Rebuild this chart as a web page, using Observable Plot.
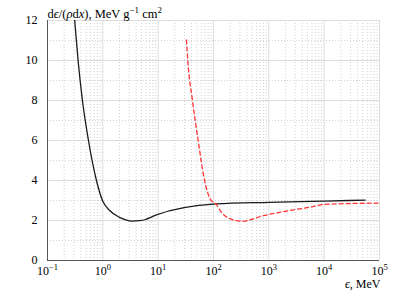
<!DOCTYPE html>
<html><head><meta charset="utf-8">
<script src="https://cdn.jsdelivr.net/npm/d3@7"></script>
<script src="https://cdn.jsdelivr.net/npm/@observablehq/plot@0.6"></script>
<style>body{margin:0;background:#fff}</style>
</head><body><div id="chart"></div>
<script>
// Black curve (solid)
const blackEnergy = [0.31, 0.357, 0.428, 0.55, 0.767, 0.985, 1.33, 1.96, 2.6, 3.4, 4.5, 5.9, 7.4, 9.0, 112, 1000, 10000, 55000];
const blackLoss   = [12.0, 10.0, 8.0, 6.0, 4.0, 3.0, 2.5, 2.17, 2.03, 1.97, 1.99, 2.05, 2.16, 2.27, 2.83, 2.91, 2.97, 3.02];
// Red curve (dashed)
const redEnergy = [32.5, 34.3, 41.7, 52.8, 69, 90.6, 110, 143, 202, 330, 525, 700, 925, 2790, 5570, 10000, 30000, 100000];
const redLoss   = [11.03, 10.0, 8.0, 6.0, 4.0, 3.0, 2.83, 2.37, 2.08, 1.96, 2.08, 2.2, 2.28, 2.53, 2.67, 2.8, 2.85, 2.87];
// Ticks
const xTickValues = [0.1, 1, 10, 100, 1000, 10000, 100000];
const xTickExponents = ["\u22121", "0", "1", "2", "3", "4", "5"];
const yTickValues = [0, 2, 4, 6, 8, 10, 12];
const yMinorValues = [1, 3, 5, 7, 9, 11];
const xMinorMultipliers = [2, 3, 4, 5, 6, 7, 8, 9];
const yLabel = "d\u03F5/(\u03C1dx), MeV g\u22121 cm2";
const xLabel = "\u03F5, MeV";

const xMinorValues = xTickValues.slice(0, -1).flatMap(d => xMinorMultipliers.map(m => d * m));
const black = blackEnergy.map((e, i) => ({e, v: blackLoss[i]}));
const red = redEnergy.map((e, i) => ({e, v: redLoss[i]}));

const chart = Plot.plot({
  width: 399, height: 295,
  marginLeft: 47, marginRight: 20, marginTop: 20, marginBottom: 35,
  style: {fontFamily: "'Liberation Serif', serif", fontSize: "12px", background: "#fff", color: "#000"},
  x: {type: "log", domain: [0.1, 1e5]},
  y: {domain: [0, 12]},
  marks: [
    Plot.ruleX(xMinorValues, {stroke: "#c8c8c8", strokeDasharray: "1,2", strokeWidth: 0.8}),
    Plot.ruleY(yMinorValues, {stroke: "#c8c8c8", strokeDasharray: "1,2", strokeWidth: 0.8}),
    Plot.ruleX(xTickValues.slice(1), {stroke: "#ddd", strokeWidth: 1}),
    Plot.ruleY(yTickValues.slice(1), {stroke: "#ddd", strokeWidth: 1}),
    Plot.axisX({ticks: xTickValues, tickSize: 0, tickPadding: 6, label: null,
      tickFormat: d => "10^" + xTickExponents[xTickValues.indexOf(d)]}),
    Plot.axisY({ticks: yTickValues, tickSize: 0, tickPadding: 10, label: null}),
    Plot.ruleY([0], {stroke: "#555", strokeWidth: 1}),
    Plot.ruleX([0.1], {stroke: "#555", strokeWidth: 1}),
    Plot.line(black, {x: "e", y: "v", stroke: "#1a1a1a", strokeWidth: 1.3, curve: "monotone-x"}),
    Plot.line(red, {x: "e", y: "v", stroke: "#ff3333", strokeWidth: 1.3, strokeDasharray: "4,3", curve: "monotone-x"}),
    Plot.text([yLabel], {frameAnchor: "top-left", textAnchor: "start", dx: 0, dy: -11, fontSize: 12.5}),
    Plot.text([xLabel], {frameAnchor: "bottom-right", textAnchor: "end", dx: 1, dy: 27, fontSize: 12})
  ]
});
document.getElementById("chart").appendChild(chart);

const NS = "http://www.w3.org/2000/svg";
function rebuild(el, parts, supSize) {
  while (el.firstChild) el.removeChild(el.firstChild);
  let shift = 0;
  for (const p of parts) {
    const t = document.createElementNS(NS, "tspan");
    t.textContent = p.t;
    const target = p.sup ? -5 : 0;
    if (target !== shift) { t.setAttribute("dy", target - shift); shift = target; }
    if (p.sup) t.setAttribute("font-size", supSize);
    if (p.i) t.setAttribute("font-style", "italic");
    el.appendChild(t);
  }
}
chart.querySelectorAll("text").forEach(el => {
  const s = el.textContent;
  const m = s.match(/^10\^(.+)$/);
  if (m) rebuild(el, [{t: "10"}, {t: m[1], sup: true}], 8.5);
  else if (s === yLabel) rebuild(el, [
    {t: "d"}, {t: "\u03F5", i: true}, {t: "/("}, {t: "\u03C1", i: true}, {t: "d"}, {t: "x", i: true},
    {t: "), MeV g"}, {t: "\u22121", sup: true}, {t: " cm"}, {t: "2", sup: true}], 9);
  else if (s === xLabel) rebuild(el, [{t: "\u03F5", i: true}, {t: ", MeV"}], 9);
});
</script></body></html>
